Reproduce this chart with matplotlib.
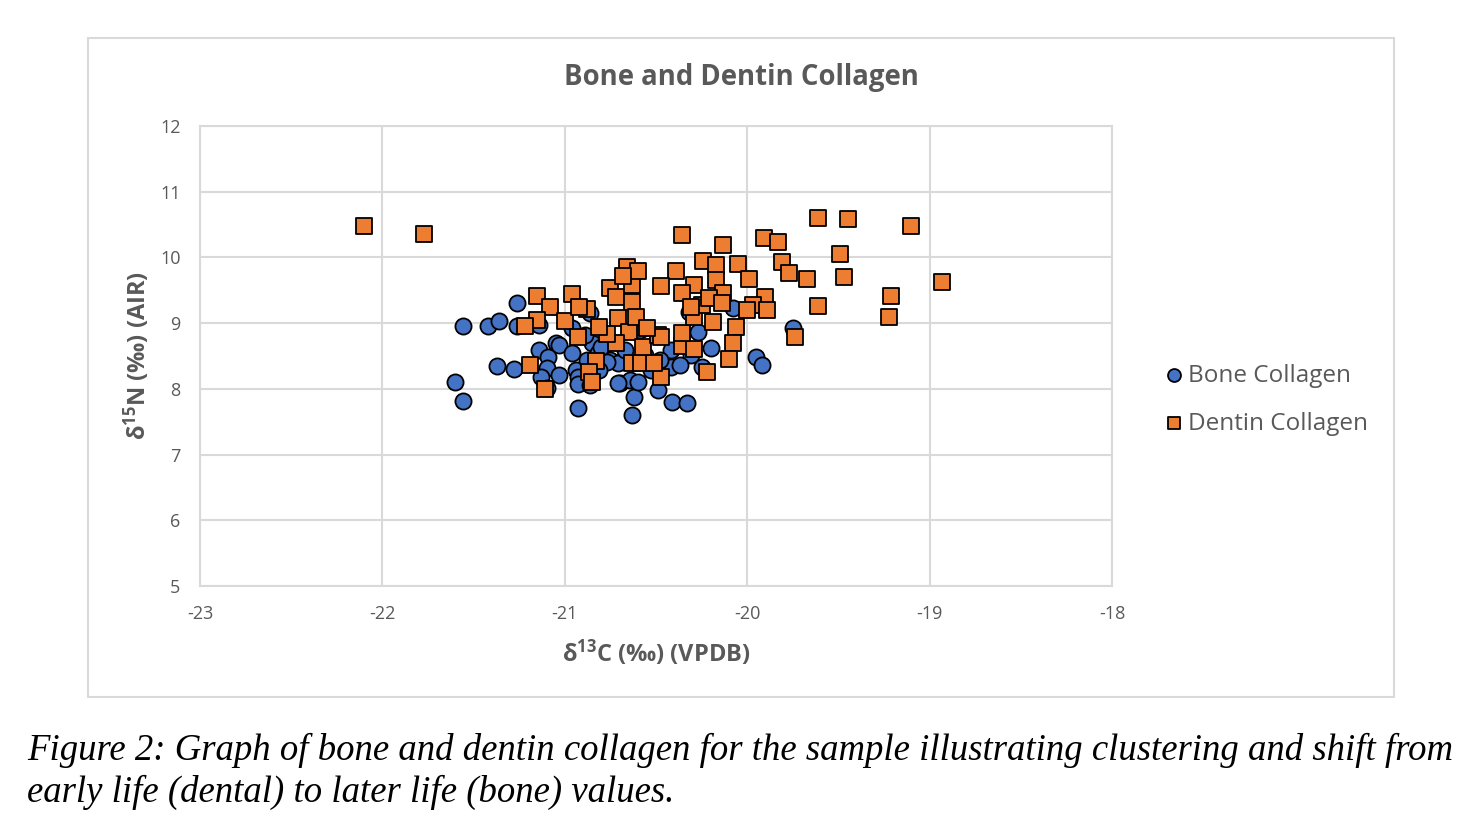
import matplotlib
matplotlib.use("Agg")
import matplotlib.pyplot as plt
import matplotlib.patches as patches

plt.rcParams['font.family'] = ['Open Sans', 'DejaVu Sans']
plt.rcParams['mathtext.default'] = 'regular'
plt.rcParams['axes.unicode_minus'] = False

# delta13C (x) and delta15N (y)
bone_c = [-21.56, -21.42, -21.36, -21.26, -21.26, -21.14, -21.60, -21.56, -21.37, -21.28,
          -21.05, -21.03, -21.14, -21.09, -21.10, -21.13, -21.10, -20.96, -20.94, -20.93,
          -20.93, -20.93, -20.85, -20.85, -20.79, -20.70, -20.70, -20.62, -20.63, -20.96,
          -20.86, -20.64, -20.88, -20.82, -20.75, -20.71, -20.71, -20.77, -20.80, -20.60,
          -20.49, -20.41, -20.33, -20.27, -20.20, -20.25, -19.95, -19.92, -19.75, -20.08,
          -20.32, -20.42, -20.42, -20.56, -20.53, -20.48, -20.67, -20.81, -20.86, -21.03,
          -20.89, -20.31, -20.37, -20.59]
bone_n = [8.96, 8.96, 9.03, 9.31, 8.96, 8.97, 8.11, 7.82, 8.35, 8.30,
          8.70, 8.67, 8.59, 8.49, 8.32, 8.18, 8.01, 8.55, 8.29, 8.18,
          8.07, 7.71, 8.70, 8.39, 8.55, 8.41, 8.09, 7.88, 7.60, 8.93,
          9.16, 8.14, 8.44, 8.55, 8.44, 8.39, 8.09, 8.41, 8.64, 8.11,
          7.98, 7.80, 7.79, 8.87, 8.62, 8.33, 8.49, 8.36, 8.93, 9.23,
          9.17, 8.59, 8.33, 8.52, 8.29, 8.44, 8.59, 8.29, 8.06, 8.21,
          8.82, 8.52, 8.36, 8.90]

dentin_c = [-22.10, -21.77, -21.15, -21.08, -20.96, -21.15, -21.22, -21.00, -20.93, -20.88,
            -20.92, -20.75, -20.72, -20.66, -20.63, -20.63, -20.71, -20.65, -20.72, -20.77,
            -20.81, -21.19, -20.83, -20.87, -20.85, -21.11, -20.63, -19.61, -19.45, -19.10,
            -20.36, -19.91, -19.83, -20.13, -19.49, -20.24, -20.17, -20.05, -19.81, -19.77,
            -19.67, -19.47, -18.93, -19.99, -20.60, -20.39, -20.47, -20.29, -20.17, -20.13,
            -19.90, -19.97, -19.89, -20.00, -19.61, -19.21, -19.22, -19.74, -20.06, -20.08,
            -20.10, -20.22, -20.47, -20.58, -20.51, -20.36, -20.29, -20.36, -20.19, -20.29,
            -20.25, -20.36, -20.31, -20.61, -20.57, -20.49, -20.47, -20.21, -20.14, -20.68,
            -20.55]
dentin_n = [10.48, 10.36, 9.41, 9.25, 9.44, 9.05, 8.96, 9.03, 8.79, 9.22,
            9.25, 9.54, 9.40, 9.86, 9.58, 9.32, 9.08, 8.87, 8.70, 8.84,
            8.94, 8.36, 8.42, 8.26, 8.11, 8.00, 8.39, 10.60, 10.59, 10.48,
            10.34, 10.30, 10.24, 10.19, 10.05, 9.95, 9.89, 9.90, 9.93, 9.76,
            9.67, 9.70, 9.63, 9.67, 9.79, 9.79, 9.57, 9.58, 9.66, 9.46,
            9.40, 9.28, 9.20, 9.20, 9.26, 9.41, 9.09, 8.79, 8.94, 8.70,
            8.46, 8.26, 8.18, 8.39, 8.39, 8.65, 8.61, 8.85, 9.02, 9.09,
            9.28, 9.46, 9.25, 9.09, 8.64, 8.82, 8.79, 9.38, 9.31, 9.72,
            8.92]

x_ticks = [-23, -22, -21, -20, -19, -18]
y_ticks = [5, 6, 7, 8, 9, 10, 11, 12]

title = "Bone and Dentin Collagen"
xlabel = "δ$^{13}$C (‰) (VPDB)"
ylabel = "δ$^{15}$N (‰) (AIR)"
caption = ("Figure 2: Graph of bone and dentin collagen for the sample illustrating clustering and shift from\n"
           "early life (dental) to later life (bone) values.")

GRID = "#D9D9D9"
TXT = "#595959"

fig = plt.figure(figsize=(14.84, 8.34), dpi=100)
fig.patches.append(patches.Rectangle((88 / 1484, 137 / 834), 1306 / 1484, 659 / 834,
                                     transform=fig.transFigure, fill=False,
                                     edgecolor=GRID, linewidth=1.5))

ax = fig.add_axes([200 / 1484, 248 / 834, 912 / 1484, 460 / 834])
ax.scatter(bone_c, bone_n, s=135, marker="o", c="#4472C4", edgecolors="black",
           linewidths=1.3, label="Bone Collagen", zorder=3)
ax.scatter(dentin_c, dentin_n, s=135, marker="s", c="#ED7D31", edgecolors="black",
           linewidths=1.3, label="Dentin Collagen", zorder=4)

ax.set_xlim(-23, -18)
ax.set_ylim(5, 12)
ax.set_xticks(x_ticks)
ax.set_yticks(y_ticks)
ax.grid(True, color=GRID, linewidth=1.5, zorder=0)
ax.set_axisbelow(True)
for sp in ax.spines.values():
    sp.set_color(GRID)
    sp.set_linewidth(1.5)
ax.tick_params(length=0, labelsize=13, colors=TXT)
ax.tick_params(axis="x", pad=14)
ax.tick_params(axis="y", pad=14)

fig.text(741 / 1484, 1 - 78 / 834, title, fontsize=19.8, fontweight="bold", color=TXT,
         ha="center", va="center")
ax.set_xlabel(xlabel, fontsize=17, fontweight="bold", color=TXT, labelpad=10)
ax.set_ylabel(ylabel, fontsize=17, fontweight="bold", color=TXT, labelpad=6)

leg = ax.legend(loc="center left", bbox_to_anchor=(1.031, 0.405), frameon=False,
                fontsize=17.5, markerscale=0.8, handletextpad=0.05,
                labelspacing=1.0, handlelength=1.0)
for t in leg.get_texts():
    t.set_color(TXT)

fig.text(27 / 1484, 1 - 771 / 834, caption, family="Liberation Serif", style="italic",
         fontsize=26.5, va="center", ha="left", linespacing=1.25)

fig.savefig("out.png", dpi=100)
